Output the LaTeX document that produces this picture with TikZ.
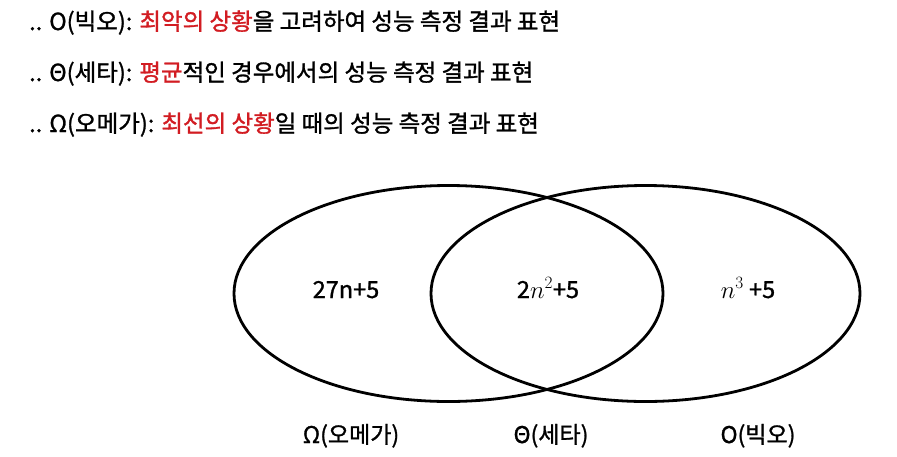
\documentclass[tikz,border=0pt]{standalone}
\usepackage{fontspec}
\setmainfont{Noto Sans CJK KR}[FakeBold=1.2]
\usetikzlibrary{shapes.geometric}
\definecolor{hl}{RGB}{210,28,34}
\tikzset{
  venn/.style={ellipse, draw=black, line width=2.8pt, minimum width=429pt, minimum height=216pt, inner sep=0pt},
  headline/.style={anchor=base west, inner sep=0pt, font=\fontsize{23.5}{28}\selectfont},
  setlabel/.style={anchor=base, inner sep=0pt, font=\fontsize{23}{27}\selectfont},
  regionlabel/.style={anchor=base, inner sep=0pt, font=\fontsize{23.5}{27}\selectfont}
}
\newcommand{\hlt}[1]{\textcolor{hl}{#1}}
\begin{document}
\begin{tikzpicture}[x=1pt,y=-1pt]
\useasboundingbox (0,0) rectangle (897,456);
\fill[white] (0,0) rectangle (897,456);
% headlines
\node[headline] (h1) at (29,30) {.. O(빅오): \hlt{최악의 상황}을 고려하여 성능 측정 결과 표현};
\node[headline] (h2) at (29,81) {.. Θ(세타): \hlt{평균}적인 경우에서의 성능 측정 결과 표현};
\node[headline] (h3) at (29,132) {.. Ω(오메가): \hlt{최선의 상황}일 때의 성능 측정 결과 표현};
% ellipses
\node[venn] (omega) at (448.5,293.5) {};
\node[venn] (bigo) at (645.5,293.5) {};
% region texts
\node[regionlabel] (r1) at (346,298) {27n+5};
\node[regionlabel] (r2) at (548,298) {2$n^2$+5};
\node[regionlabel] (r3) at (748,298) {$n^3$ +5};
% set labels
\node[setlabel] (l1) at (351,443) {Ω(오메가)};
\node[setlabel] (l2) at (551,443) {Θ(세타)};
\node[setlabel] (l3) at (758,443) {O(빅오)};
\end{tikzpicture}
\end{document}
